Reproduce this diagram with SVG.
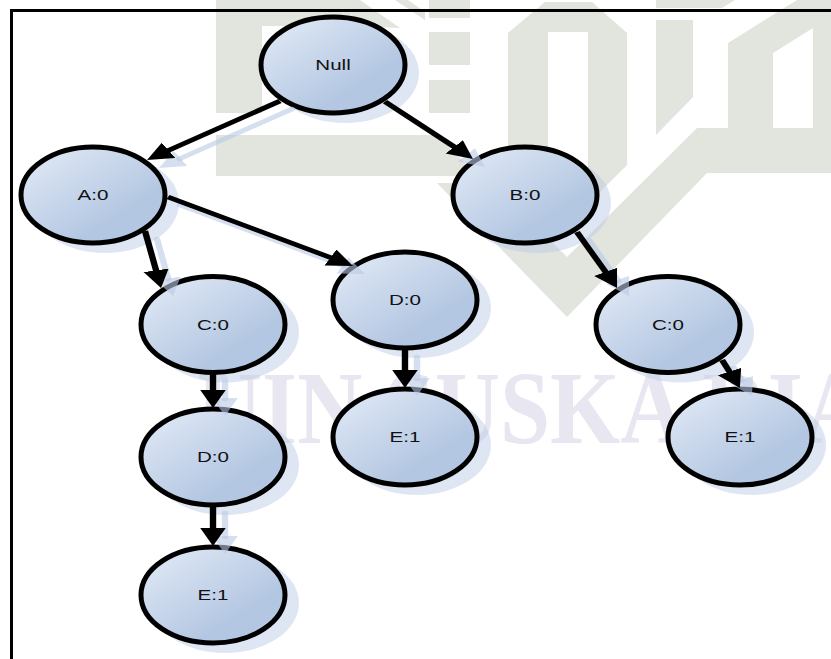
<svg xmlns="http://www.w3.org/2000/svg" width="831" height="659" viewBox="0 0 831 659">
  <defs>
    <linearGradient id="nodeFill" x1="0.1" y1="0.05" x2="0.85" y2="0.85">
      <stop offset="0" stop-color="#dfe8f5"/>
      <stop offset="0.8" stop-color="#b4c7e2"/>
      <stop offset="1" stop-color="#b4c7e2"/>
    </linearGradient>
    <marker id="head" markerUnits="userSpaceOnUse" markerWidth="20" markerHeight="20" refX="1" refY="9" orient="auto">
      <polygon points="0,0 18,9 0,18" fill="#000"/>
    </marker>
    <marker id="headShadow" markerUnits="userSpaceOnUse" markerWidth="20" markerHeight="20" refX="1" refY="9" orient="auto">
      <polygon points="0,0 18,9 0,18" fill="#b9cae5" fill-opacity="0.6"/>
    </marker>
    <style>
      .wm { fill: #e2e4de; }
      .wmt { fill: #e8e6f0; font-family: "Liberation Serif", serif; font-weight: bold; font-size: 103px; }
      .sh { fill: #b9cae5; fill-opacity: 0.47; }
      .nd { fill: url(#nodeFill); stroke: #000; stroke-width: 5; }
      .lb { fill: #111; font-family: "Liberation Sans", Arial, sans-serif; font-size: 14.5px; text-anchor: middle; }
      .cn { stroke: #000; stroke-width: 4.5; fill: none; marker-end: url(#head); }
      .cs { stroke: #b9cae5; stroke-opacity: 0.6; stroke-width: 4.5; fill: none; stroke-linecap: round; marker-end: url(#headShadow); }
    </style>
  </defs>
  <rect width="831" height="659" fill="#fff"/>
  <g id="watermark">
    <polygon class="wm" points="216,0 360,0 400,28 350,26 262,26 262,113 216,113"/>
    <polygon class="wm" points="395,0 408,0 425,12 425,20"/>
    <rect class="wm" x="429" y="0" width="41" height="18"/>
    <rect class="wm" x="429" y="32" width="41" height="33"/>
    <rect class="wm" x="429" y="80" width="41" height="33"/>
    <polygon class="wm" points="216,135 437,135 478,176 216,176"/>
    <polygon class="wm" points="508,33 545,2 592,2 627,33 627,165 560,232 508,180 508,33 548,32 548,200 588,200 588,32 548,32"/>
    <polygon class="wm" points="656,20 693,20 693,97 656,135"/>
    <polygon class="wm" points="656,0 735,0 722,8 656,8"/>
    <path class="wm" fill-rule="evenodd" d="M437,183 H493 L567,257 L697,128 H728 V43 L797,0 H831 V173 H707 L567,317 Z M773,53 L813,28 V128 H773 Z"/>
    <text class="wmt" transform="translate(197 443) scale(0.875 1)">UIN SUSKA RIA</text>
  </g>
  <path id="frame" d="M831,10.5 H11.5 V659" fill="none" stroke="#000" stroke-width="3"/>

  <g id="node-null"><ellipse class="sh" cx="345" cy="73" rx="74" ry="50"/><ellipse class="nd" cx="333" cy="65" rx="72" ry="48"/><text class="lb" transform="translate(333 70) scale(1.42 1)">Null</text></g>
  <g id="node-a"><ellipse class="sh" cx="105" cy="203" rx="74" ry="50"/><ellipse class="nd" cx="93" cy="195" rx="72" ry="48"/><text class="lb" transform="translate(93 200) scale(1.42 1)">A:0</text></g>
  <g id="node-b"><ellipse class="sh" cx="537" cy="203" rx="74" ry="50"/><ellipse class="nd" cx="525" cy="195" rx="72" ry="48"/><text class="lb" transform="translate(525 200) scale(1.42 1)">B:0</text></g>
  <g id="node-c-left"><ellipse class="sh" cx="225" cy="332.500" rx="74" ry="50"/><ellipse class="nd" cx="213" cy="324.500" rx="72" ry="48"/><text class="lb" transform="translate(213 329.500) scale(1.42 1)">C:0</text></g>
  <g id="node-d-mid"><ellipse class="sh" cx="417" cy="308" rx="74" ry="50"/><ellipse class="nd" cx="405" cy="300" rx="72" ry="48"/><text class="lb" transform="translate(405 305) scale(1.42 1)">D:0</text></g>
  <g id="node-c-right"><ellipse class="sh" cx="680" cy="332.500" rx="74" ry="50"/><ellipse class="nd" cx="668" cy="324.500" rx="72" ry="48"/><text class="lb" transform="translate(668 329.500) scale(1.42 1)">C:0</text></g>
  <g id="node-e-mid"><ellipse class="sh" cx="417" cy="445" rx="74" ry="50"/><ellipse class="nd" cx="405" cy="437" rx="72" ry="48"/><text class="lb" transform="translate(405 442) scale(1.42 1)">E:1</text></g>
  <g id="node-e-right"><ellipse class="sh" cx="752" cy="445" rx="74" ry="50"/><ellipse class="nd" cx="740" cy="437" rx="72" ry="48"/><text class="lb" transform="translate(740 442) scale(1.42 1)">E:1</text></g>
  <g id="node-d-left"><ellipse class="sh" cx="225" cy="465" rx="74" ry="50"/><ellipse class="nd" cx="213" cy="457" rx="72" ry="48"/><text class="lb" transform="translate(213 462) scale(1.42 1)">D:0</text></g>
  <g id="node-e-left"><ellipse class="sh" cx="225" cy="603" rx="74" ry="50"/><ellipse class="nd" cx="213" cy="595" rx="72" ry="48"/><text class="lb" transform="translate(213 600) scale(1.42 1)">E:1</text></g>

  <g id="connectors" transform="scale(1.42 1)">
    <g transform="translate(8.45 8)">
      <path class="cs" d="M197.200,101 L117.900,150.900"/>
      <path class="cs" d="M271.100,101.700 L320.600,147.500"/>
      <path class="cs" d="M118.300,197 L233.600,258"/>
      <path class="cs" d="M102.100,231 L110.100,271.300"/>
      <path class="cs" d="M406.300,232 L426.900,272.800"/>
      <path class="cs" d="M508.500,360 L514.100,372.500"/>
      <path class="cs" d="M285.200,349 V371"/>
      <path class="cs" d="M150,373 V391"/>
      <path class="cs" d="M150,505 V529"/>
    </g>
    <path class="cn" d="M197.200,101 L117.900,150.900"/>
    <path class="cn" d="M271.100,101.700 L320.600,147.500"/>
    <path class="cn" d="M118.300,197 L233.600,258"/>
    <path class="cn" d="M102.100,231 L110.100,271.300"/>
    <path class="cn" d="M406.300,232 L426.900,272.800"/>
    <path class="cn" d="M508.500,360 L514.100,372.500"/>
    <path class="cn" d="M285.200,349 V371"/>
    <path class="cn" d="M150,373 V391"/>
    <path class="cn" d="M150,505 V529"/>
  </g>
</svg>
